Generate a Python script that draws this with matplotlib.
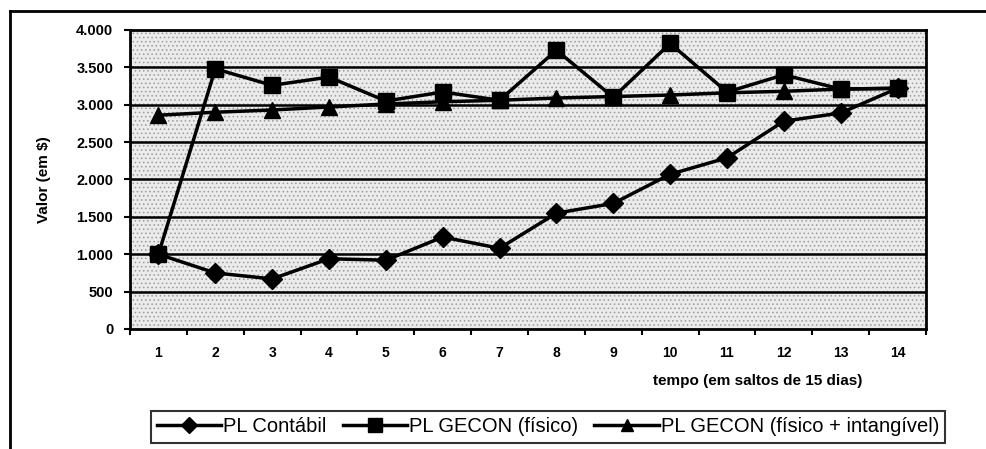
import matplotlib.pyplot as plt
from matplotlib.lines import Line2D
from matplotlib.patches import Rectangle

periodos = list(range(1, 15))
pl_contabil = [1000, 750, 670, 940, 920, 1230, 1080, 1550, 1680, 2070, 2290, 2780, 2890, 3220]
pl_gecon_fisico = [1000, 3480, 3260, 3370, 3050, 3170, 3060, 3730, 3100, 3820, 3170, 3400, 3210, 3220]
pl_gecon_intang = [2860, 2900, 2930, 2970, 3010, 3040, 3060, 3090, 3110, 3130, 3160, 3180, 3210, 3220]
y_ticks = [0, 500, 1000, 1500, 2000, 2500, 3000, 3500, 4000]
y_labels = ["0", "500", "1.000", "1.500", "2.000", "2.500", "3.000", "3.500", "4.000"]

plt.rcParams['font.family'] = ['Liberation Sans', 'DejaVu Sans']
plt.rcParams['hatch.linewidth'] = 0.6

fig = plt.figure(figsize=(9.86, 4.49), dpi=100)
ax = fig.add_axes([130 / 986, 1 - 329 / 449, 796 / 986, 299 / 449])
ax.set_facecolor('#ebebeb')
# stippled look of the plot area
ax.add_patch(Rectangle((0, 0), 1, 1, transform=ax.transAxes, facecolor='none',
                       edgecolor='#9a9a9a', hatch='....', lw=0, zorder=0.5))

# gridlines
for y in y_ticks[1:-1]:
    ax.axhline(y, color='black', lw=1.8, zorder=1)

ax.plot(periodos, pl_contabil, color='black', lw=2.5, marker='D', ms=10, zorder=3,
        label='PL Contábil')
ax.plot(periodos, pl_gecon_fisico, color='black', lw=2.5, marker='s', ms=12, zorder=3,
        label='PL GECON (físico)')
ax.plot(periodos, pl_gecon_intang, color='black', lw=2.5, marker='^', ms=11, zorder=3,
        label='PL GECON (físico + intangível)')

ax.set_xlim(0.5, 14.5)
ax.set_ylim(0, 4000)
ax.set_yticks(y_ticks)
ax.set_yticklabels(y_labels, fontweight='bold', fontsize=10.5)
ax.set_xticks(periodos)
ax.set_xticklabels([str(p) for p in periodos], fontweight='bold', fontsize=10)
ax.set_xticks([p + 0.5 for p in range(0, 15)], minor=True)
ax.tick_params(axis='x', which='major', length=0, pad=12)
ax.tick_params(axis='x', which='minor', length=4, width=1.5, direction='out')
ax.tick_params(axis='y', length=4, width=1.5, direction='out', pad=8)
for s in ax.spines.values():
    s.set_linewidth(2)

ax.set_ylabel('Valor (em $)', fontweight='bold', fontsize=11, labelpad=18)
fig.text(758 / 986, 1 - 381 / 449, 'tempo (em saltos de 15 dias)', fontweight='bold',
         fontsize=11, ha='center', va='center')

# outer frame (top and left only)
fig.add_artist(Line2D([10 / 986, 1.0], [1 - 11 / 449, 1 - 11 / 449], color='black', lw=2))
fig.add_artist(Line2D([10 / 986, 10 / 986], [0, 1 - 11 / 449], color='black', lw=2))

leg = fig.legend(loc='center', bbox_to_anchor=(548 / 986, 1 - 427 / 449), ncol=3,
                 frameon=True, fancybox=False, edgecolor='black', fontsize=14.5,
                 handlelength=3.2, handletextpad=0.1, columnspacing=0.8,
                 borderpad=0.3, markerscale=0.8)
leg.get_frame().set_linewidth(1.5)

fig.savefig('out.png', dpi=100)
